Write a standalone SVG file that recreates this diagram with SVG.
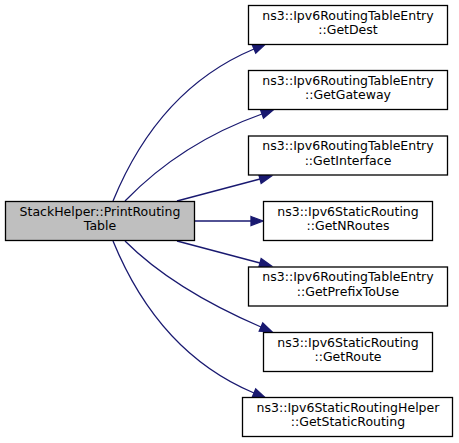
<svg xmlns="http://www.w3.org/2000/svg" width="459" height="443" viewBox="0 0 459 443">
<style>
.n rect{fill:#ffffff;stroke:#000000;stroke-width:1.3}
.n.root rect{fill:#bfbfbf}
.n text{font-family:"DejaVu Sans",sans-serif;font-size:12.5px;fill:#000000;text-anchor:middle}
.e path{fill:none;stroke:#191970;stroke-width:1.3;marker-end:url(#ah)}
</style>
<defs>
<marker id="ah" markerUnits="userSpaceOnUse" markerWidth="14" markerHeight="12" refX="0" refY="5" orient="auto" overflow="visible">
<path d="M0,0.5 L12,5 L0,9.5 z" fill="#191970" stroke="#191970" stroke-width="1.3"/>
</marker>
</defs>
<g id="edges" class="e">
<path d="M113,201 C138,140 180,80 254,49"/>
<path d="M125,201 C155,170 200,136 262,114"/>
<path d="M177,201 C200,195 230,187 260,179"/>
<path d="M194,221 L251,221"/>
<path d="M177,241 C200,247 230,255 260,263"/>
<path d="M125,241 C160,276 210,305 261,327"/>
<path d="M113,241 C138,302 180,362 254,393"/>
</g>
<g id="node_root" class="n root">
<rect x="5.5" y="201.5" width="189" height="39"/>
<text x="100" y="215.5">StackHelper::PrintRouting</text>
<text x="100" y="230">Table</text>
</g>
<g id="node_getdest" class="n">
<rect x="248.5" y="5.5" width="199" height="39"/>
<text x="348" y="19.5">ns3::Ipv6RoutingTableEntry</text>
<text x="348" y="34">::GetDest</text>
</g>
<g id="node_getgateway" class="n">
<rect x="248.5" y="70.5" width="199" height="39"/>
<text x="348" y="84.5">ns3::Ipv6RoutingTableEntry</text>
<text x="348" y="99">::GetGateway</text>
</g>
<g id="node_getinterface" class="n">
<rect x="248.5" y="136" width="199" height="39"/>
<text x="348" y="150">ns3::Ipv6RoutingTableEntry</text>
<text x="348" y="164.5">::GetInterface</text>
</g>
<g id="node_getnroutes" class="n">
<rect x="263.5" y="201.5" width="169" height="39"/>
<text x="348" y="215.5">ns3::Ipv6StaticRouting</text>
<text x="348" y="230">::GetNRoutes</text>
</g>
<g id="node_getprefixtouse" class="n">
<rect x="248.5" y="267" width="199" height="39"/>
<text x="348" y="281">ns3::Ipv6RoutingTableEntry</text>
<text x="348" y="295.5">::GetPrefixToUse</text>
</g>
<g id="node_getroute" class="n">
<rect x="263.5" y="332.5" width="169" height="39"/>
<text x="348" y="346.5">ns3::Ipv6StaticRouting</text>
<text x="348" y="361">::GetRoute</text>
</g>
<g id="node_getstaticrouting" class="n">
<rect x="242.5" y="397.5" width="210" height="39"/>
<text x="348" y="411.5">ns3::Ipv6StaticRoutingHelper</text>
<text x="348" y="426">::GetStaticRouting</text>
</g>
</svg>
